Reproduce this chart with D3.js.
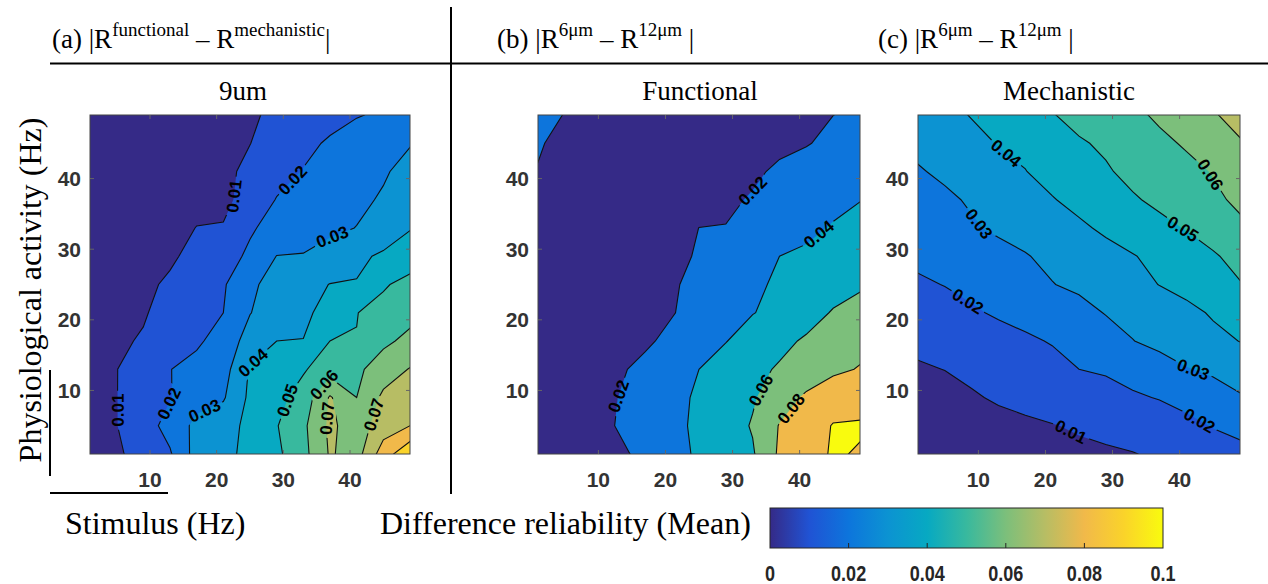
<!DOCTYPE html>
<html>
<head>
<meta charset="utf-8">
<script src="https://cdn.jsdelivr.net/npm/d3@7"></script>
<style>
  html, body { margin: 0; padding: 0; background: #fff; }
  svg { display: block; }
  .serif { font-family: "Liberation Serif", "Times New Roman", serif; fill: #000; }
  .tick { font-family: "Liberation Sans", Arial, sans-serif; font-weight: bold; font-size: 21px; fill: #333; }
  .clab { font-family: "Liberation Sans", Arial, sans-serif; font-weight: bold; font-size: 17px; fill: #000; }
  .cbar { font-family: "Liberation Sans", Arial, sans-serif; font-weight: bold; font-size: 22px; fill: #262626; }
</style>
</head>
<body>
<svg id="fig" width="1268" height="584"></svg>
<script>
// grid of the simulations (Hz)
const stimulus = [1, 5, 9, 13, 17, 21, 25, 29, 33, 37, 41, 45, 49];
// rows are listed top to bottom: 49 Hz first, 1 Hz last
const activity = [49, 45, 41, 37, 33, 29, 25, 21, 17, 13, 9, 5, 1];

const xTicks = [10, 20, 30, 40];
const yTicks = [10, 20, 30, 40];
const cbarTicks = [0, 0.02, 0.04, 0.06, 0.08, 0.1];

// (a) |R functional - R mechanistic|, 9um
const diff9um = [
  [0.002, 0.003, 0.004, 0.005, 0.006, 0.008, 0.0096, 0.0106, 0.013, 0.016, 0.0195, 0.0212, 0.024],
  [0.002, 0.003, 0.004, 0.005, 0.006, 0.008, 0.0099, 0.013, 0.017, 0.0215, 0.024, 0.027, 0.0295],
  [0.002, 0.003, 0.004, 0.005, 0.007, 0.0085, 0.0115, 0.016, 0.0205, 0.024, 0.027, 0.029, 0.033],
  [0.002, 0.003, 0.004, 0.006, 0.0075, 0.0085, 0.0125, 0.0205, 0.024, 0.026, 0.028, 0.031, 0.036],
  [0.002, 0.003, 0.005, 0.007, 0.0102, 0.0104, 0.019, 0.023, 0.026, 0.028, 0.0302, 0.034, 0.0395],
  [0.003, 0.004, 0.006, 0.0085, 0.013, 0.0165, 0.0215, 0.0302, 0.0305, 0.034, 0.038, 0.0415, 0.045],
  [0.004, 0.006, 0.008, 0.0115, 0.016, 0.019, 0.028, 0.034, 0.037, 0.0402, 0.0405, 0.049, 0.053],
  [0.005, 0.007, 0.0093, 0.013, 0.017, 0.020, 0.0297, 0.035, 0.038, 0.0435, 0.0498, 0.053, 0.057],
  [0.006, 0.0088, 0.0107, 0.016, 0.0185, 0.024, 0.034, 0.0400, 0.0402, 0.0500, 0.0502, 0.058, 0.0625],
  [0.007, 0.0098, 0.015, 0.0198, 0.023, 0.026, 0.041, 0.045, 0.049, 0.0555, 0.058, 0.065, 0.0705],
  [0.008, 0.0098, 0.016, 0.0195, 0.0265, 0.029, 0.042, 0.047, 0.054, 0.071, 0.060, 0.072, 0.075],
  [0.008, 0.0098, 0.0155, 0.0235, 0.0325, 0.036, 0.0425, 0.0495, 0.058, 0.072, 0.065, 0.075, 0.080],
  [0.007, 0.0093, 0.0118, 0.019, 0.034, 0.036, 0.044, 0.048, 0.057, 0.071, 0.066, 0.085, 0.098]
];

// (b) |R 6um - R 12um|, functional
const diffFunctional = [
  [0.025, 0.0195, 0.016, 0.012, 0.011, 0.011, 0.011, 0.012, 0.013, 0.015, 0.018, 0.0199, 0.023],
  [0.021, 0.017, 0.015, 0.013, 0.012, 0.012, 0.012, 0.012, 0.014, 0.016, 0.019, 0.024, 0.029],
  [0.0195, 0.016, 0.014, 0.012, 0.012, 0.012, 0.013, 0.015, 0.017, 0.023, 0.027, 0.031, 0.035],
  [0.016, 0.014, 0.013, 0.012, 0.012, 0.013, 0.014, 0.017, 0.0215, 0.026, 0.031, 0.035, 0.0395],
  [0.015, 0.013, 0.012, 0.012, 0.012, 0.014, 0.0201, 0.0205, 0.026, 0.031, 0.036, 0.0415, 0.046],
  [0.014, 0.013, 0.012, 0.012, 0.013, 0.016, 0.0215, 0.029, 0.034, 0.040, 0.043, 0.047, 0.053],
  [0.013, 0.012, 0.012, 0.012, 0.014, 0.018, 0.025, 0.031, 0.037, 0.0425, 0.047, 0.052, 0.0585],
  [0.012, 0.012, 0.012, 0.013, 0.015, 0.019, 0.027, 0.033, 0.0395, 0.044, 0.052, 0.0615, 0.064],
  [0.011, 0.011, 0.012, 0.014, 0.017, 0.025, 0.032, 0.0395, 0.047, 0.055, 0.0625, 0.069, 0.075],
  [0.010, 0.011, 0.013, 0.0175, 0.025, 0.033, 0.040, 0.047, 0.055, 0.062, 0.069, 0.0765, 0.081],
  [0.010, 0.011, 0.013, 0.0202, 0.027, 0.035, 0.0425, 0.050, 0.058, 0.071, 0.083, 0.091, 0.092],
  [0.010, 0.011, 0.014, 0.021, 0.028, 0.036, 0.043, 0.051, 0.0615, 0.081, 0.090, 0.101, 0.102],
  [0.010, 0.011, 0.013, 0.017, 0.024, 0.033, 0.043, 0.051, 0.058, 0.083, 0.092, 0.102, 0.0985]
];

// (c) |R 6um - R 12um|, mechanistic
const diffMechanistic = [
  [0.034, 0.037, 0.0405, 0.043, 0.046, 0.0495, 0.053, 0.056, 0.058, 0.0615, 0.066, 0.0695, 0.072],
  [0.032, 0.035, 0.037, 0.0405, 0.042, 0.045, 0.049, 0.0515, 0.0545, 0.058, 0.061, 0.065, 0.0695],
  [0.0293, 0.0315, 0.034, 0.0365, 0.0398, 0.043, 0.046, 0.049, 0.0525, 0.055, 0.0575, 0.0605, 0.064],
  [0.027, 0.0285, 0.031, 0.0335, 0.0365, 0.0395, 0.0425, 0.0455, 0.049, 0.052, 0.055, 0.0585, 0.0615],
  [0.025, 0.0265, 0.029, 0.0315, 0.033, 0.0355, 0.0385, 0.0415, 0.0445, 0.0475, 0.0505, 0.054, 0.0585],
  [0.0215, 0.0235, 0.025, 0.027, 0.0295, 0.032, 0.0345, 0.037, 0.0395, 0.0425, 0.0455, 0.049, 0.053],
  [0.019, 0.0202, 0.022, 0.024, 0.026, 0.0297, 0.032, 0.0345, 0.037, 0.0402, 0.043, 0.046, 0.0495],
  [0.016, 0.0175, 0.019, 0.021, 0.0225, 0.0245, 0.0265, 0.0305, 0.0325, 0.035, 0.0375, 0.041, 0.0435],
  [0.0115, 0.013, 0.0145, 0.017, 0.0188, 0.0205, 0.0225, 0.025, 0.0298, 0.0325, 0.035, 0.0375, 0.0402],
  [0.0093, 0.0101, 0.0115, 0.0135, 0.0155, 0.0175, 0.0200, 0.021, 0.0235, 0.026, 0.0295, 0.0315, 0.0335],
  [0.007, 0.008, 0.0093, 0.0108, 0.012, 0.0135, 0.015, 0.0168, 0.0188, 0.0205, 0.023, 0.026, 0.0293],
  [0.005, 0.006, 0.007, 0.008, 0.0088, 0.0097, 0.0108, 0.012, 0.0135, 0.015, 0.0175, 0.0205, 0.0215],
  [0.004, 0.005, 0.006, 0.0068, 0.0075, 0.008, 0.0085, 0.009, 0.0097, 0.0112, 0.013, 0.0155, 0.0185]
];

const levels9um = [0, 0.01, 0.02, 0.03, 0.04, 0.05, 0.06, 0.07, 0.08, 0.09];
const levelsFunctional = [0, 0.02, 0.04, 0.06, 0.08, 0.1];
const levelsMechanistic = [0, 0.01, 0.02, 0.03, 0.04, 0.05, 0.06, 0.07];

// contour labels: [level, stimulus Hz, activity Hz] (approximate spot on the line)
const labels9um = [
  [0.01, 22.8, 37.5], [0.01, 5.5, 7.2], [0.02, 31.8, 39.4], [0.02, 12.7, 8.2],
  [0.03, 36.7, 33.3], [0.03, 18.3, 6.9], [0.04, 25.5, 13.9], [0.05, 31.8, 8.2],
  [0.06, 36.4, 10.6], [0.07, 35.9, 6.1], [0.07, 43.8, 6.5]
];
const labelsFunctional = [
  [0.02, 33.3, 38.0], [0.02, 13.2, 9.1], [0.04, 42.7, 32.3], [0.06, 34.1, 10.1], [0.08, 39.0, 7.2]
];
const labelsMechanistic = [
  [0.04, 13.7, 43.1], [0.06, 43.3, 39.8], [0.03, 9.8, 33.4], [0.05, 40.1, 32.3],
  [0.02, 8.3, 22.4], [0.03, 42.0, 12.9], [0.02, 43.0, 5.8], [0.01, 23.7, 4.0]
];

// parula sampled at 0, 0.01, ..., 0.1 (colour limits 0..0.1)
const parula = ["#352a87", "#2053d4", "#0d75dc", "#0c93d2", "#07a9c2", "#38b99e",
                "#7cbf7b", "#b7bd64", "#f1b94a", "#fad32a", "#f9fb0e"];
const colour = v => parula[Math.round(v * 100)];

const svg = d3.select("#fig");
const defs = svg.append("defs");
const plotTop = 115, plotBottom = 454;

const panels = [
  { id: "a", left: 90, right: 410, grid: diff9um, levels: levels9um, labels: labels9um, sub: "9um", subX: 243 },
  { id: "b", left: 538, right: 860, grid: diffFunctional, levels: levelsFunctional, labels: labelsFunctional, sub: "Functional", subX: 700 },
  { id: "c", left: 918, right: 1240, grid: diffMechanistic, levels: levelsMechanistic, labels: labelsMechanistic, sub: "Mechanistic", subX: 1069 }
];

function drawPanel(p) {
  const x = d3.scaleLinear().domain([1, 49]).range([p.left, p.right]);
  const y = d3.scaleLinear().domain([1, 49]).range([plotBottom, plotTop]);
  const n = stimulus.length, m = activity.length;
  const gx = d3.scaleLinear().domain([0.5, n - 0.5]).range([stimulus[0], stimulus[n - 1]]);
  const gy = d3.scaleLinear().domain([0.5, m - 0.5]).range([activity[0], activity[m - 1]]);
  const px = a => x(gx(a)), py = b => y(gy(b));
  const path = d3.geoPath(d3.geoTransform({
    point(a, b) { this.stream.point(px(a), py(b)); }
  }));

  const contours = d3.contours().size([n, m]).thresholds(p.levels)(p.grid.flat());

  defs.append("clipPath").attr("id", "clip-" + p.id)
    .append("rect").attr("x", p.left).attr("y", plotTop)
    .attr("width", p.right - p.left).attr("height", plotBottom - plotTop);

  const g = svg.append("g");
  const body = g.append("g").attr("clip-path", `url(#clip-${p.id})`);

  body.append("g").selectAll("path").data(contours).join("path")
    .attr("d", path).attr("fill", d => colour(d.value)).attr("stroke", "none");

  // label placement: nearest point on the contour, rotated along it
  const placed = [];
  p.labels.forEach(([lev, sx, sy]) => {
    const c = contours.find(d => Math.abs(d.value - lev) < 1e-9);
    if (!c) return;
    const tx = x(sx), ty = y(sy);
    let best = null;
    c.coordinates.forEach(poly => poly.forEach(ring => {
      const pts = ring.map(([a, b]) => [px(a), py(b)]);
      for (let i = 1; i < pts.length; i++) {
        const [x0, y0] = pts[i - 1], [x1, y1] = pts[i];
        if (x0 < p.left || x0 > p.right || x1 < p.left || x1 > p.right) continue;
        if (y0 < plotTop || y0 > plotBottom || y1 < plotTop || y1 > plotBottom) continue;
        const dx = x1 - x0, dy = y1 - y0, L = dx * dx + dy * dy;
        if (L === 0) continue;
        const t = Math.max(0, Math.min(1, ((tx - x0) * dx + (ty - y0) * dy) / L));
        const qx = x0 + t * dx, qy = y0 + t * dy;
        const d = (qx - tx) ** 2 + (qy - ty) ** 2;
        if (!best || d < best.d) best = { x: qx, y: qy, d, a: Math.atan2(dy, dx) * 180 / Math.PI };
      }
    }));
    if (!best) return;
    let a = best.a;
    // keep near-vertical labels reading upwards
    if (a > 80) a -= 180;
    if (a <= -100) a += 180;
    placed.push({ text: String(lev), x: best.x, y: best.y, a });
  });

  const labG = g.append("g");
  const texts = labG.selectAll("text").data(placed).join("text")
    .attr("class", "clab")
    .attr("text-anchor", "middle")
    .attr("dy", "0.36em")
    .attr("transform", d => `translate(${d.x},${d.y}) rotate(${d.a})`)
    .text(d => d.text);
  texts.each(function (d) { d.w = this.getComputedTextLength(); });

  const mask = defs.append("mask").attr("id", "mask-" + p.id)
    .attr("maskUnits", "userSpaceOnUse")
    .attr("x", 0).attr("y", 0).attr("width", 1268).attr("height", 584);
  mask.append("rect").attr("width", 1268).attr("height", 584).attr("fill", "#fff");
  mask.selectAll("rect.hole").data(placed).join("rect").attr("class", "hole")
    .attr("x", d => -d.w / 2 - 3).attr("y", -9).attr("width", d => d.w + 6).attr("height", 18)
    .attr("transform", d => `translate(${d.x},${d.y}) rotate(${d.a})`)
    .attr("fill", "#000");

  body.append("g").attr("mask", `url(#mask-${p.id})`)
    .selectAll("path").data(contours.filter(d => d.value > 0)).join("path")
    .attr("d", path).attr("fill", "none").attr("stroke", "#111").attr("stroke-width", 1.1);

  labG.raise();

  // axes box and inward ticks
  g.append("rect").attr("x", p.left).attr("y", plotTop)
    .attr("width", p.right - p.left).attr("height", plotBottom - plotTop)
    .attr("fill", "none").attr("stroke", "#444").attr("stroke-width", 1);
  const tk = g.append("g").attr("stroke", "#666").attr("stroke-width", 1);
  xTicks.forEach(v => {
    tk.append("line").attr("x1", x(v)).attr("x2", x(v)).attr("y1", plotBottom).attr("y2", plotBottom - 4);
    tk.append("line").attr("x1", x(v)).attr("x2", x(v)).attr("y1", plotTop).attr("y2", plotTop + 4);
  });
  yTicks.forEach(v => {
    tk.append("line").attr("x1", p.left).attr("x2", p.left + 4).attr("y1", y(v)).attr("y2", y(v));
    tk.append("line").attr("x1", p.right).attr("x2", p.right - 4).attr("y1", y(v)).attr("y2", y(v));
  });

  g.append("g").selectAll("text").data(xTicks).join("text")
    .attr("class", "tick").attr("text-anchor", "middle")
    .attr("x", d => x(d)).attr("y", 487).text(d => d);
  g.append("g").selectAll("text").data(yTicks).join("text")
    .attr("class", "tick").attr("text-anchor", "end")
    .attr("x", p.left - 9).attr("y", d => y(d)).attr("dy", "0.36em").text(d => d);

  g.append("text").attr("class", "serif").attr("text-anchor", "middle")
    .attr("x", p.subX).attr("y", 100).style("font-size", "27px").text(p.sub);
}

panels.forEach(drawPanel);

// panel headings
function heading(xPos, tag, sup1, sup2, tail) {
  const t = svg.append("text").attr("class", "serif").attr("x", xPos).attr("y", 48)
    .style("font-size", "27px");
  t.append("tspan").text(`(${tag}) |R`);
  t.append("tspan").attr("dy", -12).style("font-size", "19px").text(sup1);
  t.append("tspan").attr("dy", 12).text(" \u2013 R");
  t.append("tspan").attr("dy", -12).style("font-size", "19px").text(sup2);
  t.append("tspan").attr("dy", 12).text(tail);
}
heading(52, "a", "functional", "mechanistic", "|");
heading(497, "b", "6\u03bcm", "12\u03bcm", " |");
heading(878, "c", "6\u03bcm", "12\u03bcm", " |");

// separator lines
const rules = svg.append("g").attr("stroke", "#000").attr("stroke-width", 2);
rules.append("line").attr("x1", 50).attr("x2", 1268).attr("y1", 63.5).attr("y2", 63.5);
rules.append("line").attr("x1", 451).attr("x2", 451).attr("y1", 7).attr("y2", 494);
rules.append("line").attr("x1", 50).attr("x2", 50).attr("y1", 370).attr("y2", 476);
rules.append("line").attr("x1", 50).attr("x2", 168).attr("y1", 493).attr("y2", 493);

// axis titles
svg.append("text").attr("class", "serif").attr("text-anchor", "middle")
  .attr("transform", "translate(41,290) rotate(-90)").style("font-size", "32px")
  .text("Physiological activity (Hz)");
svg.append("text").attr("class", "serif").attr("x", 65).attr("y", 534)
  .style("font-size", "32px").text("Stimulus (Hz)");
svg.append("text").attr("class", "serif").attr("x", 380).attr("y", 534)
  .style("font-size", "32px").text("Difference reliability (Mean)");

// colour bar
const cx = d3.scaleLinear().domain([0, 0.1]).range([770, 1163]);
const grad = defs.append("linearGradient").attr("id", "parula-grad")
  .attr("x1", "0%").attr("x2", "100%").attr("y1", "0%").attr("y2", "0%");
parula.forEach((c, i) => grad.append("stop").attr("offset", `${i * 10}%`).attr("stop-color", c));
svg.append("rect").attr("x", cx(0)).attr("y", 508).attr("width", cx(0.1) - cx(0)).attr("height", 40)
  .attr("fill", "url(#parula-grad)").attr("stroke", "#262626").attr("stroke-width", 1);
svg.append("g").selectAll("line").data(cbarTicks.slice(1, -1)).join("line")
  .attr("x1", d => cx(d)).attr("x2", d => cx(d)).attr("y1", 548).attr("y2", 543)
  .attr("stroke", "#262626").attr("stroke-width", 1);
svg.append("g").selectAll("text").data(cbarTicks).join("text")
  .attr("class", "cbar").attr("text-anchor", "middle")
  .attr("transform", d => `translate(${cx(d)},581) scale(0.82,1)`)
  .text(d => String(d));
</script>
</body>
</html>
